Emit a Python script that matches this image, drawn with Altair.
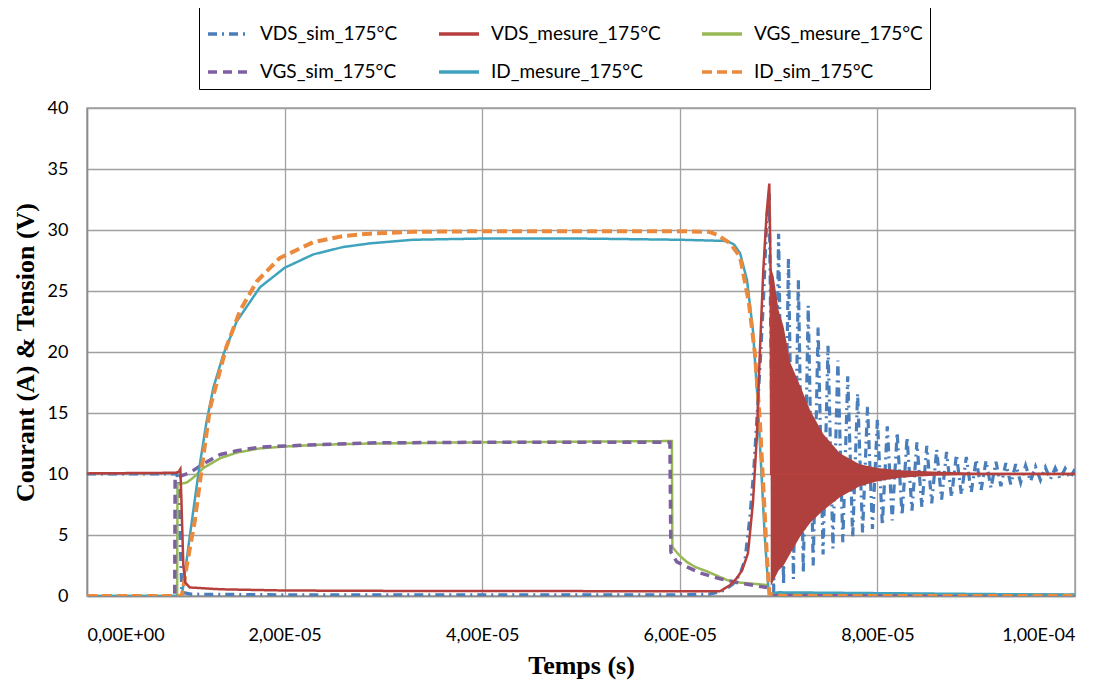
import altair as alt
import pandas as pd

# ---------------- data (time in microseconds, values in A or V) ----------------
# legend order (Vega fills the 3-column legend column by column)
series_names = ["VDS_sim_175°C", "VGS_sim_175°C", "VDS_mesure_175°C",
                "ID_mesure_175°C", "VGS_mesure_175°C", "ID_sim_175°C"]

vds_sim_t = [0, 9.1, 9.25, 9.6, 10.5, 20, 40, 60, 63.0, 63.8, 64.6, 65.4, 66.1, 66.6,
             67.1, 67.5, 67.9, 68.2, 68.45, 68.8, 69.05]
vds_sim_v = [10.0, 10.0, 9.0, 0.3, 0.15, 0.1, 0.1, 0.1, 0.15, 0.3, 0.5, 1.0, 1.8, 3.0,
             6.5, 10.5, 15.8, 20.0, 24.0, 30.8, 33.0]
# ringing of the simulated VDS: crest times / values and trough times / values
vds_sim_crest_t = [70, 71, 72, 73, 74, 75, 76, 77, 78, 79, 80, 81, 82, 83, 84, 85, 86, 87,
                   88, 89, 90, 91, 92, 93, 94, 95, 96, 97, 98, 99, 100]
vds_sim_crest_v = [29.7, 27.7, 25.9, 23.8, 22.0, 20.5, 19.3, 18.0, 16.6, 15.5, 14.5, 13.9,
                   13.4, 13.0, 12.6, 12.3, 12.0, 11.8, 11.6, 11.4, 11.2, 11.1, 11.0, 10.9,
                   10.8, 10.7, 10.6, 10.55, 10.5, 10.45, 10.4]
vds_sim_trough_t = [69.5, 70.5, 71.5, 72.5, 73.5, 74.5, 75.5, 76.5, 77.5, 78.5, 79.5, 80.5,
                    81.5, 82.5, 83.5, 84.5, 85.5, 86.5, 87.5, 88.5, 89.5, 90.5, 91.5, 92.5,
                    93.5, 94.5, 95.5, 96.5, 97.5, 98.5, 99.5]
vds_sim_trough_v = [0.3, 0.9, 1.4, 1.9, 2.5, 3.4, 3.9, 4.4, 4.8, 5.2, 5.5, 5.8, 6.2, 6.6,
                    7.0, 7.3, 7.6, 7.9, 8.1, 8.3, 8.5, 8.7, 8.85, 9.0, 9.15, 9.3, 9.4, 9.5,
                    9.55, 9.6, 9.65]

vds_mes_t = [0, 9.0, 9.3, 9.45, 9.55, 9.75, 9.95, 10.4, 13.5, 20, 30, 40, 50, 60, 63,
             64.1, 65.1, 65.8, 66.3, 66.9, 67.4, 67.8, 68.1, 68.45, 68.8, 69.06, 69.2,
             69.25, 100]
vds_mes_v = [10.05, 10.1, 10.2, 10.4, 8.0, 2.5, 1.1, 0.7, 0.55, 0.45, 0.42, 0.4, 0.4,
             0.38, 0.38, 0.4, 0.9, 1.5, 2.1, 3.5, 7.6, 13.1, 19.9, 26.7, 31.5, 33.8, 26,
             10, 10]
# envelope of the measured VDS ringing
vds_mes_band_t = [69.2, 69.5, 70.0, 70.5, 71.2, 72.2, 73.2, 74.5, 76.2, 78.2, 80, 82.3,
                  85.6, 90, 100]
vds_mes_band_hi = [27, 26.2, 23.4, 22.1, 19.1, 17.2, 15.2, 13.3, 11.7, 10.8, 10.5, 10.3,
                   10.2, 10.1, 10.1]
vds_mes_band_lo = [0.8, 1.3, 2.1, 2.5, 3.5, 4.9, 6.0, 7.0, 8.1, 9.0, 9.4, 9.7, 9.85,
                   9.95, 9.95]

vgs_mes_t = [0, 9.12, 9.16, 10.1, 10.76, 11.8, 13.5, 15.15, 17.5, 20, 23.6, 28.6, 40, 50,
             59.2, 59.25, 60, 60.7, 61.5, 62.8, 64.8, 66.1, 67.5, 68.8, 69.0, 69.2, 75, 85,
             100]
vgs_mes_v = [0, 0, 9.15, 9.3, 9.7, 10.5, 11.3, 11.75, 12.1, 12.25, 12.4, 12.5, 12.6, 12.65,
             12.7, 4.0, 3.3, 2.8, 2.4, 2.0, 1.3, 1.1, 1.0, 0.9, 0.5, 0.15, 0.2, 0.15, 0.1]

vgs_sim_t = [0, 8.88, 8.92, 9.4, 10.4, 11.8, 13.5, 15.15, 17.5, 20, 28.6, 40, 50, 59.0,
             59.1, 59.7, 60.7, 62, 64.1, 66.1, 68.8, 69.1, 69.3, 80, 100]
vgs_sim_v = [0, 0, 9.7, 9.8, 10.1, 10.85, 11.6, 11.9, 12.2, 12.3, 12.55, 12.6, 12.6, 12.6,
             3.6, 2.8, 2.4, 1.9, 1.4, 1.06, 0.7, 0.3, 0.1, 0.1, 0.05]

id_mes_t = [0, 9.55, 9.7, 10.43, 11.27, 12.1, 12.8, 13.8, 15.15, 17.5, 20, 22.9, 25.9, 28.6,
            33, 40, 50, 60, 64.8, 65.5, 66.1, 66.8, 67.4, 67.9, 68.25, 68.6, 68.95, 69.1,
            70, 100]
id_mes_v = [0, 0, 0.6, 5.05, 10.0, 14.3, 17.1, 19.8, 22.5, 25.3, 26.9, 28.0, 28.6, 28.9,
            29.2, 29.3, 29.3, 29.2, 29.1, 28.8, 28.1, 25.9, 21.8, 15.8, 10.3, 4.9, 0.8, 0.2,
            0.3, 0.1]

id_sim_t = [0, 9.6, 10.1, 10.9, 11.8, 12.45, 14.1, 15.5, 17.2, 19.5, 22.9, 25.9, 28.6, 33,
            40, 50, 60, 63, 63.8, 65.1, 66.1, 67.0, 67.6, 68.1, 68.45, 68.8, 69.06, 70, 100]
id_sim_v = [0, 0, 2.5, 6.1, 11.6, 15.4, 20.4, 23.4, 25.8, 27.7, 29.0, 29.5, 29.7, 29.85,
            29.9, 29.9, 29.9, 29.85, 29.6, 28.9, 27.8, 24, 19.9, 14.4, 9.0, 3.5, 0.2, 0, 0]

x_tick_values = [0, 20, 40, 60, 80, 100]
x_tick_labels = ["0,00E+00", "2,00E-05", "4,00E-05", "6,00E-05", "8,00E-05", "1,00E-04"]
y_tick_values = [0, 5, 10, 15, 20, 25, 30, 35, 40]

# ---------------- styles (same order as series_names) ----------------
colors = ["#4A7EBB", "#7D60A0", "#B5403D", "#3FA3BE", "#98B954", "#EB8A3C"]
dashes = [[9, 5, 2, 5], [9, 6], [1, 0], [1, 0], [1, 0], [10, 5]]
widths = {"VDS_sim_175°C": 3.2, "VDS_mesure_175°C": 2.5, "VGS_mesure_175°C": 2.5,
          "VGS_sim_175°C": 3.5, "ID_mesure_175°C": 2.5, "ID_sim_175°C": 4}

# ---------------- tables ----------------
rows = []
def add(name, ts, vs):
    for t, v in zip(ts, vs):
        rows.append({"series": name, "t": t, "v": v})

osc = sorted(list(zip(vds_sim_trough_t, vds_sim_trough_v)) +
             list(zip(vds_sim_crest_t, vds_sim_crest_v)))
add("VDS_sim_175°C", vds_sim_t + [p[0] for p in osc], vds_sim_v + [p[1] for p in osc])
add("VDS_mesure_175°C", vds_mes_t, vds_mes_v)
add("VGS_mesure_175°C", vgs_mes_t, vgs_mes_v)
add("VGS_sim_175°C", vgs_sim_t, vgs_sim_v)
add("ID_mesure_175°C", id_mes_t, id_mes_v)
add("ID_sim_175°C", id_sim_t, id_sim_v)
df = pd.DataFrame(rows)
df["order"] = range(len(df))

band = pd.DataFrame({"t": vds_mes_band_t, "hi": vds_mes_band_hi, "lo": vds_mes_band_lo})

label_expr = "[" + ",".join("'%s'" % s for s in x_tick_labels) + "][round(datum.value/20)]"

x_enc = alt.X("t:Q", scale=alt.Scale(domain=[0, 100], nice=False),
              axis=alt.Axis(values=x_tick_values, labelExpr=label_expr, title="Temps (s)",
                            grid=True, ticks=False, labelPadding=30, titlePadding=8))
y_enc = alt.Y("v:Q", scale=alt.Scale(domain=[0, 40], nice=False),
              axis=alt.Axis(values=y_tick_values, title="Courant (A) & Tension (V)",
                            grid=True, ticks=False, labelPadding=19, titlePadding=9))

legend = alt.Legend(title=None, orient="none", legendX=112, legendY=-103,
                    columns=3, symbolType="stroke", symbolSize=1600,
                    symbolStrokeWidth=3.5, labelFontSize=19,
                    labelFont="Lato", labelColor="black",
                    columnPadding=34, rowPadding=6, padding=7,
                    strokeColor="black", fillColor="white",
                    labelLimit=400, symbolOffset=0, labelOffset=10)
color_enc = alt.Color("series:N", scale=alt.Scale(domain=series_names, range=colors),
                      legend=legend)
dash_enc = alt.StrokeDash("series:N", scale=alt.Scale(domain=series_names, range=dashes),
                          legend=legend)

base = alt.Chart(df)

def line_layer(name):
    return base.transform_filter(alt.datum.series == name).mark_line(
        strokeWidth=widths[name], clip=True).encode(
        x=x_enc, y=y_enc, color=color_enc, strokeDash=dash_enc, order="order:Q")

band_layer = alt.Chart(band).mark_area(color="#B0403D", opacity=1).encode(
    x=alt.X("t:Q"), y=alt.Y("hi:Q"), y2=alt.Y2("lo:Q"))

chart = alt.layer(
    line_layer("VDS_sim_175°C"),
    line_layer("VGS_mesure_175°C"),
    line_layer("VGS_sim_175°C"),
    line_layer("ID_mesure_175°C"),
    line_layer("ID_sim_175°C"),
    band_layer,
    line_layer("VDS_mesure_175°C"),
).properties(
    width=988, height=488,
    autosize=alt.AutoSizeParams(type="none"),
    padding={"left": 79, "top": 100, "right": 30, "bottom": 84},
).configure_view(
    stroke="#A0A0A0", strokeWidth=1.5
).configure_axis(
    gridColor="#A0A0A0", gridWidth=1.3, domainColor="#8C8C8C", domainWidth=1.5,
    labelFont="Lato", labelFontSize=18, labelColor="black",
    titleFont="Liberation Serif", titleFontSize=26, titleFontWeight="bold", titleColor="black"
)

chart.save("out.html", embed_options={"renderer": "svg", "actions": False})
